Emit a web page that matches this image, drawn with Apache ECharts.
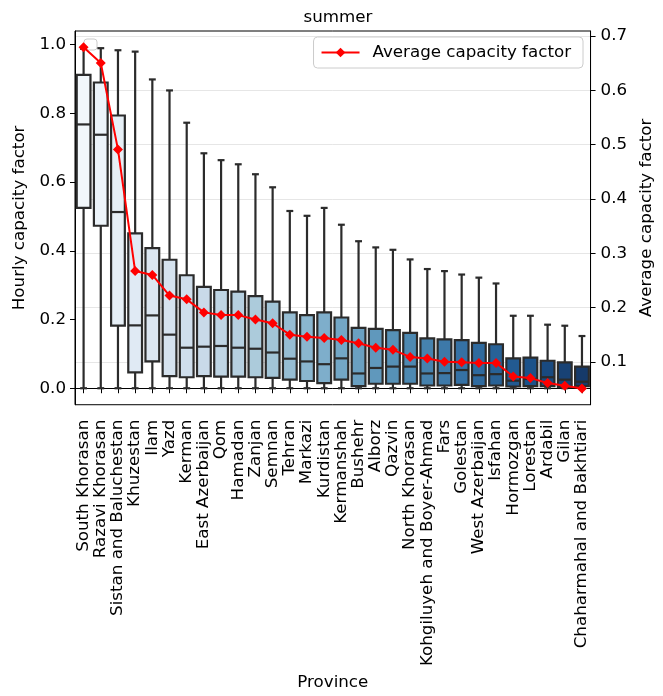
<!DOCTYPE html>
<html><head><meta charset="utf-8">
<script src="https://cdn.jsdelivr.net/npm/echarts@6/dist/echarts.min.js"></script>
<style>html,body{margin:0;padding:0;background:#fff}#c{width:663px;height:696px}</style>
</head><body><div id="c"></div>
<script>
const provinces = ['South Khorasan','Razavi Khorasan','Sistan and Baluchestan','Khuzestan','Ilam','Yazd','Kerman','East Azerbaijan','Qom','Hamadan','Zanjan','Semnan','Tehran','Markazi','Kurdistan','Kermanshah','Bushehr','Alborz','Qazvin','North Khorasan','Kohgiluyeh and Boyer-Ahmad','Fars','Golestan','West Azerbaijan','Isfahan','Hormozgan','Lorestan','Ardabil','Gilan','Chaharmahal and Bakhtiari'];
const whiskerLow = [0,0,0,0,0,0,0,0,0,0,0,0,0,0,0,0,0,0,0,0,0,0,0,0,0,0,0,0,0,0];
const q1 = [0.525,0.473,0.182,0.046,0.078,0.035,0.032,0.035,0.034,0.034,0.032,0.030,0.025,0.021,0.015,0.025,0.006,0.013,0.013,0.013,0.008,0.008,0.010,0.006,0.008,0.005,0.006,0.006,0.003,0.006];
const median = [0.768,0.738,0.513,0.183,0.212,0.156,0.118,0.121,0.123,0.118,0.115,0.104,0.086,0.078,0.070,0.087,0.043,0.059,0.063,0.063,0.043,0.044,0.053,0.038,0.041,0.022,0.027,0.032,0.025,0.019];
const q3 = [0.912,0.890,0.794,0.451,0.408,0.374,0.329,0.295,0.286,0.281,0.268,0.252,0.221,0.213,0.221,0.206,0.176,0.173,0.169,0.161,0.145,0.142,0.140,0.132,0.128,0.087,0.089,0.080,0.075,0.063];
const whiskerHigh = [0.988,0.990,0.984,0.980,0.899,0.867,0.773,0.684,0.664,0.652,0.623,0.585,0.516,0.502,0.525,0.476,0.428,0.410,0.403,0.375,0.347,0.341,0.331,0.322,0.305,0.211,0.211,0.185,0.182,0.152];
const avgCF = [0.679,0.650,0.491,0.267,0.260,0.222,0.215,0.191,0.186,0.186,0.178,0.171,0.150,0.146,0.144,0.140,0.134,0.126,0.122,0.109,0.106,0.100,0.099,0.098,0.098,0.073,0.070,0.061,0.056,0.051];
const leftTicks = [0.0,0.2,0.4,0.6,0.8,1.0];
const rightTicks = [0.1,0.2,0.3,0.4,0.5,0.6,0.7];

// Blues colormap sampled like seaborn, desaturated 0.75
const bluesStops = [[247,251,255],[222,235,247],[198,219,239],[158,202,225],[107,174,214],[66,146,198],[33,113,181],[8,81,156],[8,48,107]];
function blues(t){const p=t*8;const i=Math.min(7,Math.floor(p));const f=p-i;return bluesStops[i].map((c,k)=>c+(bluesStops[i+1][k]-c)*f);}
function desat(rgb,s){
  let [r,g,b]=rgb.map(v=>v/255);const mx=Math.max(r,g,b),mn=Math.min(r,g,b);const l=(mx+mn)/2;
  if(mx===mn) return rgb.map(Math.round);
  const d=mx-mn;let sat=l>0.5?d/(2-mx-mn):d/(mx+mn);let h;
  if(mx===r)h=((g-b)/d)%6;else if(mx===g)h=(b-r)/d+2;else h=(r-g)/d+4;h/=6;if(h<0)h+=1;sat*=s;
  const q=l<0.5?l*(1+sat):l+sat-l*sat;const p2=2*l-q;
  const hh=(t)=>{if(t<0)t+=1;if(t>1)t-=1;if(t<1/6)return p2+(q-p2)*6*t;if(t<1/2)return q;if(t<2/3)return p2+(q-p2)*(2/3-t)*6;return p2;};
  return [hh(h+1/3),hh(h),hh(h-1/3)].map(v=>Math.round(v*255));
}
const n = provinces.length;
const boxColors = provinces.map((_,i)=>{const c=desat(blues((i+1)/(n+1)),0.75);return 'rgb('+c.join(',')+')';});

const boxData = provinces.map((_,i)=>[i, whiskerLow[i], q1[i], median[i], q3[i], whiskerHigh[i]]);
const FONT = 'DejaVu Sans';
const FS = 16.7;
const stroke = '#2b2b2b', lw = 2.2;

const chart = echarts.init(document.getElementById('c'), null, {renderer:'canvas'});
chart.setOption({
  animation:false,
  textStyle:{fontFamily:FONT},
  title:{text:'summer',left:333,top:4,textAlign:'center',textStyle:{fontFamily:FONT,fontSize:FS,fontWeight:'normal',color:'#000'}},
  grid:{left:75,right:72,top:31,bottom:287,show:true,borderColor:'#000',borderWidth:1,backgroundColor:'transparent'},
  legend:{data:['Average capacity factor'],right:80,top:37,orient:'horizontal',
    padding:[7,12,7,7],itemWidth:38,itemHeight:12,
    borderColor:'#cccccc',borderWidth:1,borderRadius:4,backgroundColor:'rgba(255,255,255,0.8)',
    textStyle:{fontFamily:FONT,fontSize:FS,color:'#000',padding:[0,0,0,8]}},
  xAxis:{type:'category',data:provinces,boundaryGap:true,
    name:'Province',nameLocation:'middle',nameGap:267,nameTextStyle:{fontFamily:FONT,fontSize:FS,color:'#000'},
    axisLine:{show:true,lineStyle:{color:'#000',width:1}},
    axisTick:{show:true,alignWithLabel:true,interval:0,length:5,lineStyle:{color:'#000'}},
    axisLabel:{interval:0,rotate:90,margin:15,fontFamily:FONT,fontSize:FS,color:'#000'},
    splitLine:{show:false}},
  yAxis:[
    {type:'value',min:-0.048,max:1.04,position:'left',
     name:'Hourly capacity factor',nameLocation:'middle',nameGap:44,nameRotate:90,
     nameTextStyle:{fontFamily:FONT,fontSize:FS,color:'#000'},
     axisLine:{show:true,lineStyle:{color:'#000',width:1}},
     axisTick:{show:true,length:5,customValues:leftTicks,lineStyle:{color:'#000'}},
     axisLabel:{customValues:leftTicks,margin:9,fontFamily:FONT,fontSize:FS,color:'#000',formatter:v=>v.toFixed(1)},
     splitLine:{show:false}},
    {type:'value',min:0.021,max:0.709,position:'right',
     name:'Average capacity factor',nameLocation:'middle',nameGap:42,nameRotate:90,
     nameTextStyle:{fontFamily:FONT,fontSize:FS,color:'#000'},
     axisLine:{show:true,lineStyle:{color:'#000',width:1}},
     axisTick:{show:true,length:5,customValues:rightTicks,lineStyle:{color:'#000'}},
     axisLabel:{customValues:rightTicks,margin:10,fontFamily:FONT,fontSize:FS,color:'#000',formatter:v=>v.toFixed(1)},
     splitLine:{show:true,lineStyle:{color:'#e6e6e6',width:1}}}
  ],
  graphic:[{type:'rect',z:1,shape:{x:84,y:39,width:13,height:11,r:3},style:{fill:'rgba(255,255,255,0.8)',stroke:'#cccccc',lineWidth:1}}],
  series:[
    {type:'custom',name:'boxes',xAxisIndex:0,yAxisIndex:0,z:2,
     encode:{x:0,y:[1,2,3,4,5]},data:boxData,
     renderItem:function(params,api){
       const idx=api.value(0);
       const pLow=api.coord([idx,api.value(1)]);
       const pQ1=api.coord([idx,api.value(2)]);
       const pMed=api.coord([idx,api.value(3)]);
       const pQ3=api.coord([idx,api.value(4)]);
       const pHigh=api.coord([idx,api.value(5)]);
       const bw=api.size([1,0])[0]*0.8;
       const cx=pMed[0];
       const cap=bw/2;
       const st={stroke:stroke,lineWidth:lw};
       return {type:'group',children:[
         {type:'line',shape:{x1:cx,y1:pQ3[1],x2:cx,y2:pHigh[1]},style:st},
         {type:'line',shape:{x1:cx,y1:pQ1[1],x2:cx,y2:pLow[1]},style:st},
         {type:'line',shape:{x1:cx-cap/2,y1:pHigh[1],x2:cx+cap/2,y2:pHigh[1]},style:st},
         {type:'line',shape:{x1:cx-cap/2,y1:pLow[1],x2:cx+cap/2,y2:pLow[1]},style:st},
         {type:'rect',shape:{x:cx-bw/2,y:pQ3[1],width:bw,height:pQ1[1]-pQ3[1]},style:{fill:boxColors[idx],stroke:stroke,lineWidth:lw}},
         {type:'line',shape:{x1:cx-bw/2,y1:pMed[1],x2:cx+bw/2,y2:pMed[1]},style:st}
       ]};
     }},
    {type:'line',name:'Average capacity factor',xAxisIndex:0,yAxisIndex:1,z:5,data:avgCF,
     symbol:'diamond',symbolSize:10,showSymbol:true,
     lineStyle:{color:'#ff0000',width:2},itemStyle:{color:'#ff0000'}}
  ]
});
</script></body></html>
